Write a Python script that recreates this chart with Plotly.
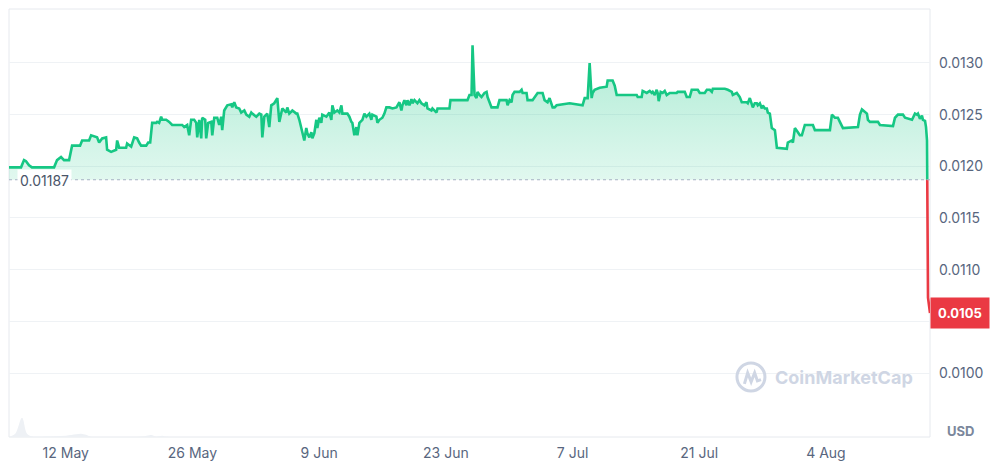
import numpy as np
import pandas as pd
import plotly.graph_objects as go

# ---------------- data ----------------
START = "2024-05-05"          # day 0 of the time offsets below
days = [0.73, 2.06, 2.39, 2.61, 2.94, 3.27, 5.71, 6.04, 6.48, 6.81, 7.37, 7.70, 8.58, 8.81, 9.58, 9.80,
        10.46, 10.69, 11.02, 11.46, 11.57, 12.01, 12.57, 12.68, 12.90, 13.67, 13.78, 14.23, 14.56, 14.89,
        15.11, 15.33, 15.89, 16.11, 16.33, 16.44, 16.55, 16.99, 17.10, 17.32, 17.54, 17.66, 18.10, 18.43,
        18.76, 19.87, 20.09, 20.42, 20.64, 20.86, 21.19, 21.42, 21.53, 21.75, 21.97, 22.08, 22.41, 22.52,
        22.74, 23.08, 23.19, 23.41, 23.74, 23.96, 24.18, 24.29, 24.51, 24.85, 25.29, 25.40, 25.62, 25.84,
        26.17, 26.39, 26.73, 26.95, 27.28, 27.50, 27.61, 28.05, 28.39, 28.61, 28.72, 28.94, 29.27, 29.49,
        29.71, 30.04, 30.38, 30.60, 30.82, 30.93, 31.37, 31.48, 31.70, 32.04, 32.48, 32.59, 32.81, 33.03,
        33.14, 33.36, 33.58, 33.70, 33.92, 34.14, 34.25, 34.47, 34.69, 34.80, 35.02, 35.24, 35.35, 35.80,
        36.13, 36.35, 36.46, 36.68, 37.01, 37.24, 37.46, 37.57, 38.12, 38.34, 38.56, 38.67, 38.89, 39.12,
        39.23, 39.45, 39.78, 40.00, 40.22, 40.55, 40.77, 40.88, 41.33, 41.44, 41.66, 41.99, 42.21, 42.43,
        42.77, 43.10, 43.54, 43.87, 44.09, 44.20, 44.42, 44.65, 44.76, 44.98, 45.20, 45.31, 45.53, 45.86,
        46.08, 46.30, 46.64, 46.86, 46.97, 47.41, 47.52, 47.74, 47.97, 48.08, 49.40, 49.51, 51.39, 51.61,
        51.84, 51.95, 52.17, 52.39, 52.50, 52.72, 52.94, 53.27, 53.50, 53.61, 54.05, 54.71, 54.93, 55.71,
        55.82, 56.04, 56.26, 56.37, 56.59, 57.15, 57.37, 57.48, 57.92, 58.03, 58.58, 59.14, 59.69, 59.91,
        60.24, 60.46, 60.69, 60.80, 61.02, 61.24, 62.68, 64.11, 64.34, 64.67, 64.89, 65.11, 65.22, 65.44,
        66.00, 66.77, 66.88, 67.43, 67.66, 67.88, 70.09, 70.20, 70.64, 70.75, 70.97, 71.20, 71.53, 71.75,
        71.86, 72.08, 72.30, 72.41, 72.52, 72.74, 72.96, 73.19, 73.41, 73.74, 74.51, 74.62, 75.40, 75.62,
        75.95, 76.17, 76.84, 77.06, 77.61, 77.84, 78.17, 78.39, 78.50, 79.83, 80.16, 80.60, 80.71, 81.15,
        81.48, 81.70, 82.26, 82.37, 82.59, 82.81, 82.92, 83.14, 83.36, 83.47, 83.70, 83.92, 84.03, 84.25,
        84.47, 84.58, 84.80, 85.02, 85.36, 85.58, 86.68, 86.79, 87.23, 87.35, 87.57, 87.90, 88.12, 88.34,
        88.67, 89.56, 89.78, 91.44, 91.66, 91.99, 92.32, 92.54, 92.88, 94.54, 94.76, 94.98, 95.31, 95.53,
        95.64, 95.87, 96.75, 96.97, 98.41, 98.63, 98.96, 99.51, 99.74, 100.51, 100.62, 100.84, 101.06,
        101.17, 101.39, 101.61, 101.72, 101.95, 102.06, 102.17, 102.28, 102.50]

price = [0.01199, 0.01199, 0.01206, 0.01205, 0.01201, 0.01199, 0.01199, 0.01206, 0.01209, 0.01206,
         0.01206, 0.01220, 0.01220, 0.01225, 0.01225, 0.01230, 0.01228, 0.01223, 0.01227, 0.01228,
         0.01216, 0.01214, 0.01216, 0.01225, 0.01218, 0.01218, 0.01222, 0.01219, 0.01228, 0.01227,
         0.01223, 0.01220, 0.01220, 0.01223, 0.01223, 0.01230, 0.01242, 0.01242, 0.01243, 0.01242,
         0.01248, 0.01245, 0.01245, 0.01243, 0.01240, 0.01240, 0.01238, 0.01240, 0.01230, 0.01245,
         0.01245, 0.01242, 0.01228, 0.01245, 0.01227, 0.01247, 0.01245, 0.01227, 0.01242, 0.01243,
         0.01230, 0.01247, 0.01247, 0.01240, 0.01248, 0.01235, 0.01254, 0.01259, 0.01260, 0.01257,
         0.01262, 0.01257, 0.01256, 0.01252, 0.01254, 0.01250, 0.01248, 0.01252, 0.01251, 0.01248,
         0.01251, 0.01250, 0.01228, 0.01248, 0.01251, 0.01238, 0.01259, 0.01261, 0.01266, 0.01243,
         0.01251, 0.01256, 0.01252, 0.01257, 0.01251, 0.01254, 0.01251, 0.01251, 0.01245, 0.01238,
         0.01232, 0.01225, 0.01237, 0.01232, 0.01228, 0.01233, 0.01227, 0.01232, 0.01245, 0.01237,
         0.01247, 0.01242, 0.01250, 0.01248, 0.01252, 0.01245, 0.01259, 0.01252, 0.01254, 0.01252,
         0.01259, 0.01251, 0.01251, 0.01248, 0.01243, 0.01242, 0.01230, 0.01238, 0.01230, 0.01242,
         0.01245, 0.01251, 0.01248, 0.01251, 0.01245, 0.01250, 0.01248, 0.01242, 0.01245, 0.01247,
         0.01251, 0.01257, 0.01257, 0.01256, 0.01257, 0.01262, 0.01254, 0.01259, 0.01264, 0.01259,
         0.01264, 0.01259, 0.01265, 0.01261, 0.01264, 0.01261, 0.01264, 0.01261, 0.01259, 0.01262,
         0.01256, 0.01254, 0.01256, 0.01254, 0.01252, 0.01256, 0.01256, 0.01264, 0.01264, 0.01269,
         0.01269, 0.01317, 0.01269, 0.01266, 0.01272, 0.01269, 0.01267, 0.01271, 0.01272, 0.01267,
         0.01257, 0.01257, 0.01264, 0.01264, 0.01259, 0.01264, 0.01262, 0.01269, 0.01272, 0.01272,
         0.01274, 0.01271, 0.01271, 0.01264, 0.01264, 0.01271, 0.01271, 0.01264, 0.01262, 0.01266,
         0.01261, 0.01257, 0.01257, 0.01259, 0.01261, 0.01259, 0.01266, 0.01266, 0.01300, 0.01266,
         0.01271, 0.01274, 0.01276, 0.01277, 0.01283, 0.01283, 0.01278, 0.01269, 0.01269, 0.01267,
         0.01267, 0.01273, 0.01272, 0.01271, 0.01273, 0.01271, 0.01272, 0.01269, 0.01274, 0.01271,
         0.01263, 0.01272, 0.01271, 0.01273, 0.01269, 0.01271, 0.01271, 0.01272, 0.01272, 0.01267,
         0.01267, 0.01274, 0.01274, 0.01271, 0.01271, 0.01274, 0.01274, 0.01272, 0.01275, 0.01275,
         0.01274, 0.01272, 0.01269, 0.01271, 0.01267, 0.01262, 0.01262, 0.01261, 0.01266, 0.01261,
         0.01257, 0.01261, 0.01261, 0.01259, 0.01261, 0.01256, 0.01259, 0.01256, 0.01256, 0.01252,
         0.01251, 0.01237, 0.01235, 0.01218, 0.01217, 0.01223, 0.01225, 0.01223, 0.01237, 0.01233,
         0.01230, 0.01230, 0.01240, 0.01240, 0.01235, 0.01235, 0.01250, 0.01247, 0.01247, 0.01243,
         0.01237, 0.01238, 0.01250, 0.01255, 0.01252, 0.01251, 0.01245, 0.01243, 0.01243, 0.01240,
         0.01239, 0.01247, 0.01250, 0.01250, 0.01247, 0.01245, 0.01247, 0.01251, 0.01250, 0.01251,
         0.01246, 0.01249, 0.01245, 0.01244, 0.01238, 0.01225, 0.01073, 0.01058]

vol_days = [0.73, 0.87, 1.42, 2.17, 2.72, 3.27, 4.05, 5.71, 7.03, 8.14, 8.69, 9.25, 9.80, 15.11,
            16.11, 16.44, 16.99, 17.66, 18.21, 102.50]
volume = [0, 5, 30, 180, 30, 5, 3, 8, 12, 25, 30, 20, 3, 3, 15, 18, 3, 12, 2, 0]

BASELINE = 0.01187
LAST_LABEL = "0.0105"
x_ticks = ["2024-05-12", "2024-05-26", "2024-06-09", "2024-06-23", "2024-07-07", "2024-07-21", "2024-08-04"]
y_ticks = [0.0100, 0.0105, 0.0110, 0.0115, 0.0120, 0.0125, 0.0130]
y_ticktext = ["0.0100", "", "0.0110", "0.0115", "0.0120", "0.0125", "0.0130"]  # 0.0105 sits under the price tag

# ---------------- prep ----------------
GREEN = "#16c784"
RED = "#ea3943"
GREY = "#58667e"
FONT = "Inter"

t0 = pd.Timestamp(START)
t = t0 + pd.to_timedelta(np.array(days), unit="D")
p = np.array(price)
tv = t0 + pd.to_timedelta(np.array(vol_days), unit="D")

# split where the series crosses the baseline
i = int(np.argmax(p < BASELINE))
frac = (p[i - 1] - BASELINE) / (p[i - 1] - p[i])
tc = t[i - 1] + (t[i] - t[i - 1]) * frac
t_green = list(t[:i]) + [tc]
p_green = list(p[:i]) + [BASELINE]
t_red = [tc] + list(t[i:])
p_red = [BASELINE] + list(p[i:])

fig = go.Figure()

# volume (faint, bottom)
fig.add_trace(go.Scatter(x=tv, y=volume, mode="lines", line=dict(width=0, shape="spline"),
                         fill="tozeroy", fillcolor="#eef1f5", yaxis="y2", hoverinfo="skip",
                         showlegend=False))

# baseline for fill
fig.add_trace(go.Scatter(x=[t_green[0], tc], y=[BASELINE, BASELINE], mode="lines",
                         line=dict(width=0), showlegend=False, hoverinfo="skip"))
fig.add_trace(go.Scatter(x=t_green, y=p_green, mode="lines", line=dict(color=GREEN, width=2.6),
                         fill="tonexty",
                         fillgradient=dict(type="vertical",
                                           colorscale=[[0, "rgba(22,199,132,0.13)"],
                                                       [1, "rgba(22,199,132,0.32)"]],
                                           start=BASELINE, stop=0.0130),
                         showlegend=False))
fig.add_trace(go.Scatter(x=t_red, y=p_red, mode="lines", line=dict(color=RED, width=2.6),
                         showlegend=False))

# dotted baseline
fig.add_shape(type="line", xref="x", yref="y", x0=t[0], x1=t[-1], y0=BASELINE, y1=BASELINE,
              line=dict(color="#a6b0c3", width=1, dash="dot"), layer="above")

# plot frame
fig.add_shape(type="rect", xref="paper", yref="paper", x0=0, x1=1, y0=0, y1=1,
              line=dict(color="#e6e9ee", width=1), layer="below")

# baseline label
fig.add_annotation(xref="paper", yref="y", x=0.009, y=BASELINE, xanchor="left", yanchor="middle",
                   text=f"{BASELINE:.5f}", showarrow=False, bgcolor="rgba(255,255,255,0.95)",
                   borderpad=2, yshift=-1, font=dict(family=FONT, size=14, color="#4a5568"))

# last price label
fig.add_annotation(xref="paper", yref="y", x=1.0, y=p[-1], xanchor="left", yanchor="middle",
                   text=f"<b>{LAST_LABEL}</b>", showarrow=False, bgcolor=RED, borderpad=7,
                   font=dict(family=FONT, size=13, color="white"))

# USD label
fig.add_annotation(xref="paper", yref="paper", x=1.033, y=0, xanchor="center", yanchor="bottom",
                   yshift=-4, text="<b>USD</b>", showarrow=False,
                   font=dict(family=FONT, size=13, color="#7b879c"))

# watermark
WM = "#cfd6e4"
fig.add_annotation(xref="paper", yref="paper", x=0.907, y=0.14, xanchor="center", yanchor="middle",
                   text="<b>CoinMarketCap</b>", showarrow=False,
                   font=dict(family=FONT, size=18, color=WM))
fig.add_shape(type="circle", xref="paper", yref="paper", x0=0.7904, x1=0.8208, y0=0.1075, y1=0.1729,
              line=dict(color=WM, width=3))
fig.add_shape(type="path", xref="paper", yref="paper",
              path="M 0.7985 0.124 L 0.8020 0.1500 L 0.8058 0.1290 L 0.8096 0.1500 L 0.8126 0.1310 L 0.8165 0.1340",
              line=dict(color=WM, width=3))

# the page body adds an 8px offset; size the figure so the plot area lands where the reference has it
fig.update_layout(
    width=992, height=465,
    margin=dict(l=1, r=70, t=1, b=36),
    paper_bgcolor="white", plot_bgcolor="white",
    font=dict(family=FONT, size=14, color=GREY),
    xaxis=dict(range=[pd.Timestamp("2024-05-05 17:30"), pd.Timestamp("2024-08-15 12:00")],
               showgrid=False, zeroline=False, showline=False,
               tickvals=x_ticks, tickformat="%-d %b", ticks="", ticklabelstandoff=6,
               tickfont=dict(family=FONT, size=14, color=GREY)),
    yaxis=dict(side="right", range=[0.009381, 0.013522], tickvals=y_ticks, ticktext=y_ticktext,
               showgrid=True, gridcolor="#eff2f5", gridwidth=1, zeroline=False, showline=False,
               ticks="", ticklabelstandoff=8,
               tickfont=dict(family=FONT, size=14, color=GREY)),
    yaxis2=dict(overlaying="y", range=[0, 4000], visible=False),
    showlegend=False,
)

fig.write_html("out.html")
